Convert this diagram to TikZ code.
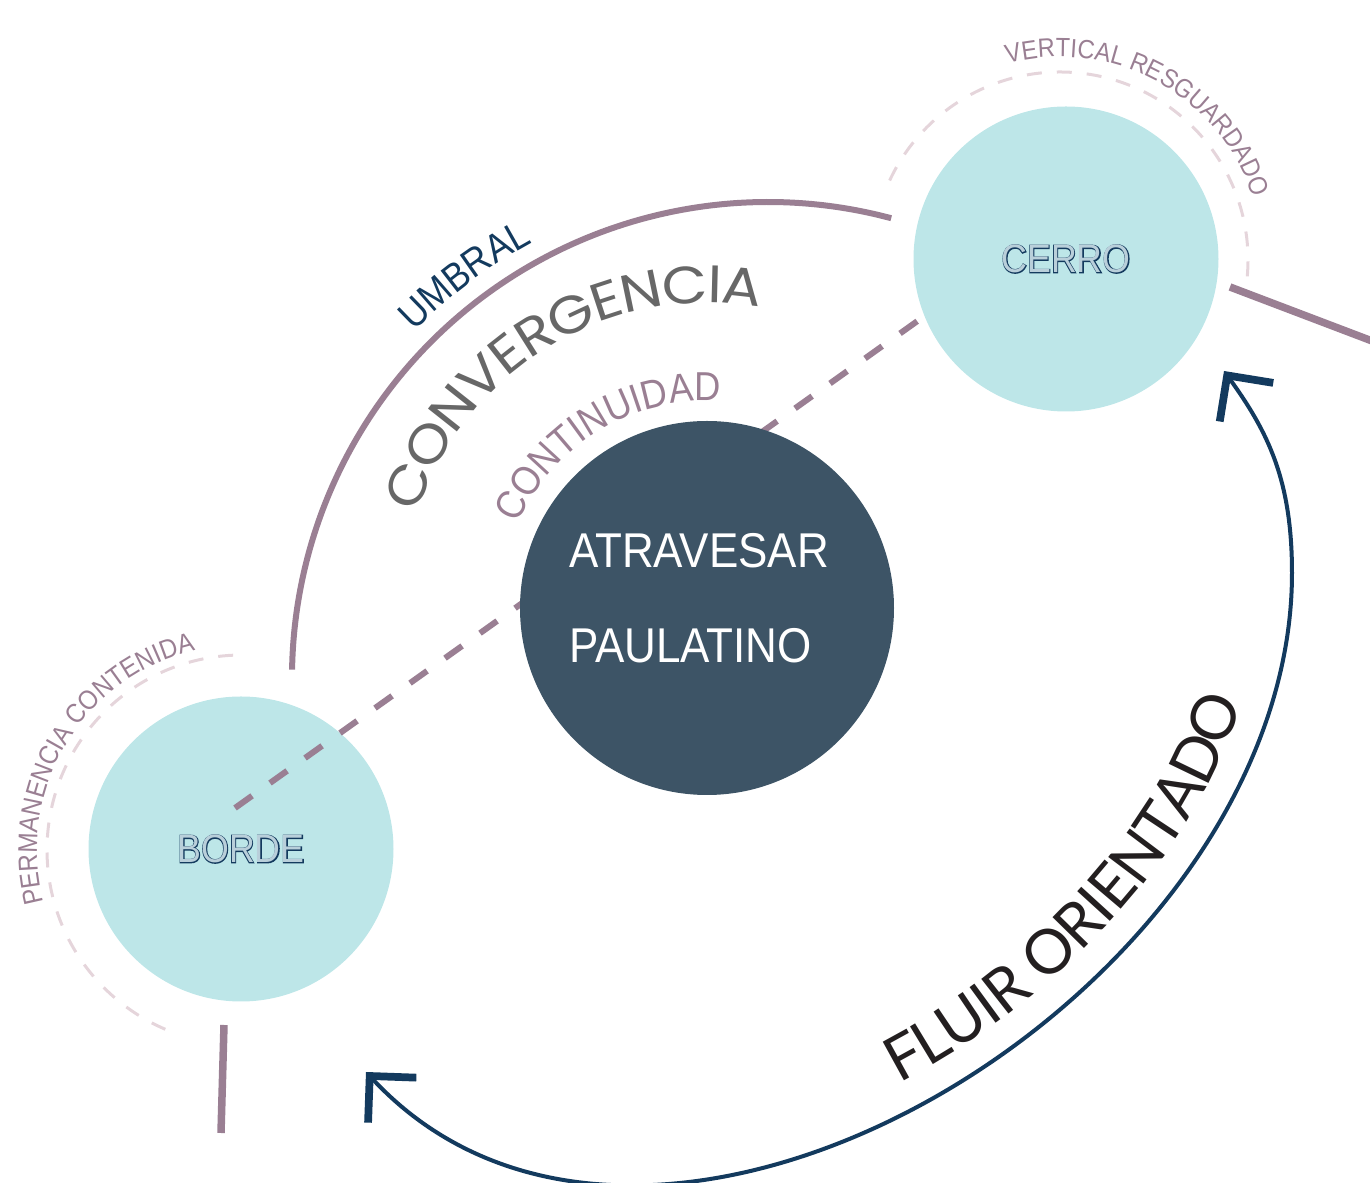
\documentclass[tikz,border=0pt]{standalone}
\usepackage{fontspec}
\setmainfont{Liberation Sans}[FakeStretch=0.9]
\newfontfamily\hollowfont{Liberation Sans}[FakeStretch=0.9,FakeBold=4]
\newfontfamily\convfont{Poppins}[FakeStretch=1.12]
\newfontfamily\fluirfont{Lato}
\usetikzlibrary{arrows.meta,decorations.text}
\definecolor{mauve}{HTML}{9A7F93}
\definecolor{blush}{HTML}{E5D5DB}
\definecolor{navy}{HTML}{133A5E}
\definecolor{slate}{HTML}{3D5466}
\definecolor{aqua}{HTML}{BDE6E8}
\definecolor{hollowin}{HTML}{B9CFDA}
\definecolor{convgray}{HTML}{676767}
\definecolor{ink}{HTML}{231F20}
\pgfdeclarelayer{bg}
\pgfsetlayers{bg,main}
\newcommand{\hollow}[1]{\rlap{\hollowfont\color{navy}#1}{\color{hollowin}#1}}
\begin{document}
\begin{tikzpicture}[
  barb/.tip={Straight Barb[sharp,length=0.33cm,width=0.66cm,line width=2.2pt]},
  hill/.style={circle,fill=aqua,minimum size=3.05cm,inner sep=0pt,font=\fontsize{11.3}{13}\selectfont},
  core/.style={circle,fill=slate,minimum size=3.74cm,inner sep=0pt,text=white,align=left,
    text depth=0.2cm,font=\fontsize{13.9}{27}\selectfont},
  rim/.style={draw=mauve,line width=0.06cm},
  stub/.style={draw=mauve,line width=0.075cm},
  link/.style={draw=mauve,line width=0.06cm,dash pattern=on 0.21cm off 0.22cm},
  halo/.style={draw=blush,line width=0.03cm,dash pattern=on 0.15cm off 0.15cm},
  flow/.style={draw=navy,line width=0.04cm,barb-barb}]
\useasboundingbox (0,0) rectangle (13.70,11.83);
\clip (0,0) rectangle (13.70,11.83);

\node[core] (atr) at (7.07,5.75) {ATRAVESAR\hspace*{0.16cm}\\PAULATINO};
\node[hill] (cerro) at (10.66,9.24) {\hollow{CERRO}};
\begin{pgfonlayer}{bg}
\node[hill] (borde) at (2.41,3.34) {\hollow{BORDE}};
\coordinate (dstart) at (2.35,3.75);
\draw[link] (dstart) -- (cerro.202);
\end{pgfonlayer}

\draw[rim] ([shift={(7.68,5.05)}]179:4.76) arc[start angle=179,end angle=75,radius=4.76];
\coordinate (ce1) at (12.30,8.96);
\coordinate (ce2) at (13.80,8.39);
\draw[stub] (ce1) -- (ce2);
\coordinate (bo1) at (2.24,1.58);
\coordinate (bo2) at (2.21,0.50);
\draw[stub] (bo1) -- (bo2);

\draw[halo] ([shift={(10.60,9.23)}]-5:1.88) arc[start angle=-5,end angle=155,radius=1.88];
\draw[halo] ([shift={(2.42,3.33)}]92.6:1.95) arc[start angle=92.6,end angle=250.6,radius=1.95];

\path[decorate,decoration={text along path,text align=center,
  text={|\fontsize{7.5}{9}\selectfont\color{mauve}|VERTICAL RESGUARDADO}}]
  ([shift={(10.60,9.23)}]120:2.03) arc[start angle=120,end angle=3,radius=2.03];
\path[decorate,decoration={text along path,text align=center,
  text={|\fontsize{7.7}{9}\selectfont\color{mauve}|PERMANENCIA CONTENIDA}}]
  ([shift={(2.42,3.33)}]201:2.05) arc[start angle=201,end angle=97,radius=2.05];
\path[decorate,decoration={text along path,text align=center,
  text={|\fontsize{11.3}{13}\selectfont\color{navy}|UMBRAL}}]
  ([shift={(7.68,5.05)}]150:4.95) arc[start angle=150,end angle=104,radius=4.95];
\path[decorate,decoration={text effects along path,text={CONVERGENCIA},
  text effects/.cd,text along path,fit text to path,
  characters={font=\convfont\fontsize{15}{17}\selectfont,text=convgray}}]
  ([shift={(7.07,5.75)}]162:3.05) arc[start angle=162,end angle=80,radius=3.05];
\path[decorate,decoration={text along path,text align=center,
  text={|\fontsize{11.5}{13}\selectfont\color{mauve}|CONTINUIDAD}}]
  ([shift={(7.07,5.75)}]170:2.07) arc[start angle=170,end angle=72.2,radius=2.07];

\coordinate (fl1) at (3.66,1.11);
\coordinate (fl2) at (12.24,8.12);
\draw[flow,postaction={decorate,decoration={text along path,raise=8pt,
  text align={left indent=5.9cm},
  text={|\fluirfont\fontsize{17.5}{19}\selectfont\color{ink}|FLUIR ORIENTADO}}}]
  (fl1) .. controls (6.52,-1.96) and (12.92,1.90) .. (12.92,6.10)
  .. controls (12.92,7.03) and (12.68,7.51) .. (fl2);
\end{tikzpicture}
\end{document}
